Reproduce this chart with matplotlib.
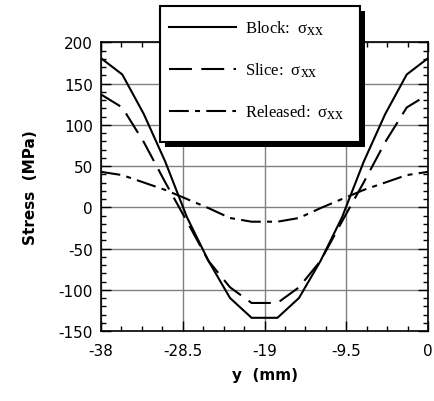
import matplotlib
matplotlib.use("Agg")
import matplotlib.pyplot as plt
import numpy as np
from matplotlib.patches import Rectangle
from matplotlib.ticker import MultipleLocator, FixedLocator
try:
    import matplotlib._mathtext as _mt
    _mt.SHRINK_FACTOR = 0.95
except Exception:
    pass

plt.rcParams['font.family'] = ['DejaVu Sans']
plt.rcParams['mathtext.fontset'] = 'custom'
plt.rcParams['mathtext.rm'] = 'Liberation Serif'
plt.rcParams['mathtext.it'] = 'Liberation Serif:italic'
plt.rcParams['mathtext.default'] = 'rm'
plt.rcParams['axes.unicode_minus'] = False

y_mm = [-38, -35.5, -33, -30.5, -28, -25.5, -23, -20.5,
        -17.5, -15, -12.5, -10, -7.5, -5, -2.5, 0]
block = [181, 161, 113, 55, -12, -65, -110, -134,
         -134, -110, -65, -12, 55, 113, 161, 181]
slice_ = [137, 121, 79, 30, -17, -65, -97, -116,
          -116, -97, -65, -17, 30, 79, 121, 137]
released = [43, 39, 30, 21, 10, -1, -13, -17.5,
            -17.5, -13, -1, 10, 21, 30, 39, 43]

x_ticks = [-38, -28.5, -19, -9.5, 0]
x_ticklabels = ['-38', '-28.5', '-19', '-9.5', '0']
y_ticks = [-150, -100, -50, 0, 50, 100, 150, 200]

W, H = 434, 402
fig = plt.figure(figsize=(W / 100, H / 100), dpi=100)
ax = fig.add_axes([100.7 / W, 1 - 332 / H, (428.3 - 100.7) / W, (332 - 43.3) / H])

lw = 1.5
l1, = ax.plot(y_mm, block, color='black', lw=lw, solid_joinstyle='miter',
              label=r'Block:$\ \ σ_{xx}$')
l2, = ax.plot(y_mm, slice_, color='black', lw=lw, dashes=(11, 4.5),
              label=r'Slice:$\ \ σ_{xx}$')
l3, = ax.plot(y_mm, released, color='black', lw=lw, dashes=(9.5, 3, 2.4, 3),
              label=r'Released:$\ \ σ_{xx}$')

ax.set_xlim(-38, 0)
ax.set_ylim(-150, 200)
ax.xaxis.set_major_locator(FixedLocator(x_ticks))
ax.set_xticklabels(x_ticklabels)
ax.xaxis.set_minor_locator(MultipleLocator(2.375))
ax.yaxis.set_major_locator(FixedLocator(y_ticks))
ax.yaxis.set_minor_locator(MultipleLocator(10))
ax.tick_params(which='both', direction='in', top=True, right=True,
               labelsize=11, width=1, color='black')
ax.tick_params(which='major', length=7)
ax.tick_params(which='minor', length=3.5)
ax.tick_params(axis='x', which='major', pad=9)
ax.tick_params(axis='y', which='major', pad=5.5)
ax.grid(True, which='major', color='#808080', lw=1)
ax.set_axisbelow(True)
for s in ax.spines.values():
    s.set_linewidth(1.2)

ax.set_xlabel('y  (mm)', fontsize=11, fontweight='bold', labelpad=6)
ax.set_ylabel('Stress  (MPa)', fontsize=11, fontweight='bold', labelpad=15)

# legend box (frame + shadow) in figure pixels
bx0, by0, bx1, by1 = 160, 7, 360, 143
shadow = Rectangle((bx0 + 5, H - by1 - 5), bx1 - bx0, by1 - by0,
                   transform=None, facecolor='black', edgecolor='none',
                   zorder=9, clip_on=False)
frame = Rectangle((bx0, H - by1), bx1 - bx0, by1 - by0,
                  transform=None, facecolor='white', edgecolor='black',
                  lw=1.5, zorder=9.5, clip_on=False)
ax.add_artist(shadow)
ax.add_artist(frame)

leg = ax.legend(handles=[l1, l2, l3], loc='upper left',
                bbox_to_anchor=(169 / W, 1 - 20 / H),
                bbox_transform=fig.transFigure, frameon=False,
                prop={'family': 'Liberation Serif', 'size': 12},
                handlelength=4.0, handletextpad=0.55, labelspacing=1.4,
                borderpad=0, borderaxespad=0)
leg.set_zorder(10)

fig.savefig('out.png', dpi=100)
